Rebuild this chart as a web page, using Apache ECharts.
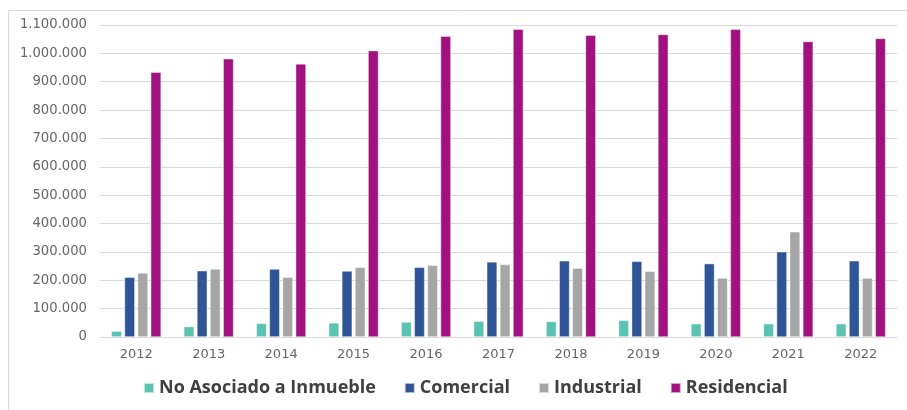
<!DOCTYPE html>
<html>
<head>
<meta charset="utf-8">
<script src="https://cdn.jsdelivr.net/npm/echarts@6/dist/echarts.min.js"></script>
<style>
html,body{margin:0;padding:0;background:#fff;}
#chart{width:907px;height:410px;}
</style>
</head>
<body>
<div id="chart"></div>
<script>
const years = ['2012','2013','2014','2015','2016','2017','2018','2019','2020','2021','2022'];
const noAsociado = [21000, 37000, 48000, 50000, 53000, 56000, 55000, 59000, 47000, 47000, 47000];
const comercial = [211000, 234000, 240000, 233000, 246000, 265000, 269000, 267000, 259000, 301000, 269000];
const industrial = [226000, 240000, 211000, 246000, 253000, 256000, 243000, 232000, 208000, 371000, 208000];
const residencial = [934000, 981000, 963000, 1010000, 1061000, 1085000, 1064000, 1067000, 1085000, 1042000, 1053000];
const seriesNames = ['No Asociado a Inmueble', 'Comercial', 'Industrial', 'Residencial'];
const colors = ['#5BC3B2', '#2F5597', '#A6A6A6', '#A1117F'];

const fmt = v => String(v).replace(/\B(?=(\d{3})+(?!\d))/g, '.');

const chart = echarts.init(document.getElementById('chart'), null, {renderer: 'canvas'});
const dataSets = [noAsociado, comercial, industrial, residencial];
chart.setOption({
  animation: false,
  backgroundColor: '#fff',
  graphic: [{
    type: 'rect',
    shape: {x: 8.5, y: 10.5, width: 1200, height: 800},
    style: {fill: 'none', stroke: '#d9d9d9', lineWidth: 1},
    z: -1
  }],
  grid: {left: 100, right: 10, top: 25, bottom: 73},
  legend: {
    bottom: 8,
    left: 138,
    itemWidth: 10,
    itemHeight: 10,
    itemGap: 28,
    icon: 'rect',
    textStyle: {fontFamily: 'Open Sans', fontWeight: 'bold', fontSize: 18, color: '#404040'},
    data: seriesNames
  },
  xAxis: {
    type: 'category',
    data: years,
    axisLine: {lineStyle: {color: '#d9d9d9', width: 1}},
    axisTick: {show: false},
    axisLabel: {color: '#666666', fontFamily: 'DejaVu Sans', fontSize: 13, margin: 11}
  },
  yAxis: {
    type: 'value',
    min: 0,
    max: 1100000,
    interval: 100000,
    axisLine: {show: false},
    axisTick: {show: false},
    splitLine: {lineStyle: {color: '#d9d9d9', width: 1}},
    axisLabel: {color: '#666666', fontFamily: 'DejaVu Sans', fontSize: 13.2, margin: 13, formatter: fmt}
  },
  series: seriesNames.map((n, i) => ({
    name: n,
    type: 'bar',
    data: dataSets[i],
    barWidth: 10.5,
    barGap: '25%',
    itemStyle: {color: colors[i], borderColor: 'rgba(255,255,255,0.6)', borderWidth: 0.7}
  }))
});
</script>
</body>
</html>
